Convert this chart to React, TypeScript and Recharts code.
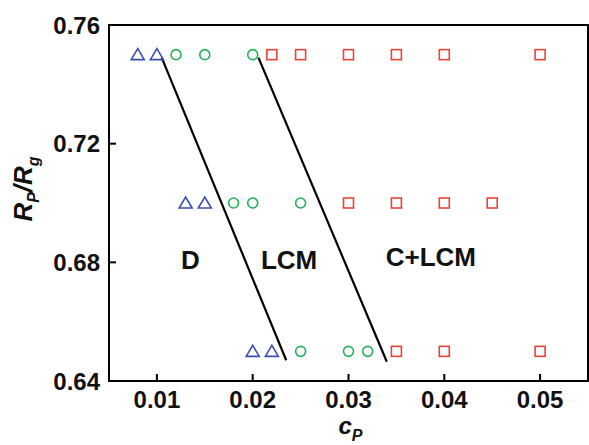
import React from 'react'
import {
  ScatterChart,
  Scatter,
  XAxis,
  YAxis,
  ReferenceLine,
  ReferenceArea,
  Label,
} from 'recharts'

if (typeof document !== 'undefined') document.body.style.margin = '0'

// D phase (triangles)
const triX = [0.008, 0.01, 0.013, 0.015, 0.02, 0.022]
const triY = [0.75, 0.75, 0.7, 0.7, 0.65, 0.65]
// LCM phase (circles)
const circX = [0.012, 0.015, 0.02, 0.018, 0.02, 0.025, 0.025, 0.03, 0.032]
const circY = [0.75, 0.75, 0.75, 0.7, 0.7, 0.7, 0.65, 0.65, 0.65]
// C+LCM phase (squares)
const sqX = [0.022, 0.025, 0.03, 0.035, 0.04, 0.05, 0.03, 0.035, 0.04, 0.045, 0.035, 0.04, 0.05]
const sqY = [0.75, 0.75, 0.75, 0.75, 0.75, 0.75, 0.7, 0.7, 0.7, 0.7, 0.65, 0.65, 0.65]

// phase boundaries
const line1 = [{ x: 0.0105, y: 0.749 }, { x: 0.0235, y: 0.647 }]
const line2 = [{ x: 0.0206, y: 0.749 }, { x: 0.034, y: 0.6465 }]

const regionNames = ['D', 'LCM', 'C+LCM']
const regionX = [0.0135, 0.0238, 0.0386]
const regionY = [0.681, 0.681, 0.682]

const xTicks = [0.01, 0.02, 0.03, 0.04, 0.05]
const yTicks = [0.64, 0.68, 0.72, 0.76]

const zip = (xs: number[], ys: number[]) => xs.map((x, i) => ({ x, y: ys[i] }))

const FONT = '"Liberation Sans", Arial, sans-serif'
const BLUE = '#3b4fb0'
const GREEN = '#22b05a'
const RED = '#ef4136'

const Triangle = (p: any) => (
  <polygon
    points={`${p.cx - 6.5},${p.cy + 5} ${p.cx + 6.5},${p.cy + 5} ${p.cx},${p.cy - 6}`}
    fill="none"
    stroke={BLUE}
    strokeWidth={1.6}
  />
)
const Circle = (p: any) => (
  <circle cx={p.cx} cy={p.cy} r={5} fill="none" stroke={GREEN} strokeWidth={1.6} />
)
const Square = (p: any) => (
  <rect x={p.cx - 5} y={p.cy - 5} width={10} height={10} fill="none" stroke={RED} strokeWidth={1.6} />
)
const RegionText = (p: any) => (
  <text x={p.cx} y={p.cy} dy="0.36em" textAnchor="middle" fontFamily={FONT} fontWeight="bold" fontSize={26} fill="#111">
    {p.payload.name}
  </text>
)

const XTick = ({ x, y, payload }: any) => (
  <g>
    <line x1={x} y1={y} x2={x} y2={y - 7} stroke="#000" strokeWidth={2} />
    <text x={x} y={y + 27} textAnchor="middle" fontFamily={FONT} fontWeight="bold" fontSize={24} fill="#111">
      {payload.value.toFixed(2)}
    </text>
  </g>
)
const YTick = ({ x, y, payload }: any) => (
  <g>
    <line x1={x} y1={y} x2={x + 7} y2={y} stroke="#000" strokeWidth={2} />
    <text x={x - 9} y={y} dy="0.36em" textAnchor="end" fontFamily={FONT} fontWeight="bold" fontSize={24} fill="#111">
      {payload.value.toFixed(2)}
    </text>
  </g>
)

export default function App() {
  return (
    <ScatterChart width={589} height={445} margin={{ top: 25, right: 1, bottom: 0, left: 0 }}>
      <XAxis
        type="number"
        dataKey="x"
        domain={[0.005, 0.055]}
        ticks={xTicks}
        tick={<XTick />}
        tickLine={false}
        tickSize={0}
        tickMargin={0}
        axisLine={{ stroke: '#000', strokeWidth: 2 }}
        height={64}
        allowDataOverflow
      >
        <Label
          content={({ viewBox }: any) => (
            <text x={viewBox.x + viewBox.width / 2 + 2} y={viewBox.y + 53} textAnchor="middle" fontFamily={FONT} fontWeight="bold" fontStyle="italic" fontSize={24} fill="#111">
              c
              <tspan dy={7} fontSize={16}>P</tspan>
            </text>
          )}
        />
      </XAxis>
      <YAxis
        type="number"
        dataKey="y"
        domain={[0.64, 0.76]}
        ticks={yTicks}
        tick={<YTick />}
        tickLine={false}
        tickSize={0}
        tickMargin={0}
        axisLine={{ stroke: '#000', strokeWidth: 2 }}
        width={109}
        allowDataOverflow
      >
        <Label
          content={() => (
            <text transform="translate(32,189) rotate(-90)" textAnchor="middle" fontFamily={FONT} fontWeight="bold" fontStyle="italic" fontSize={26} fill="#111">
              R
              <tspan dy={7} fontSize={16}>P</tspan>
              <tspan dy={-7}>/R</tspan>
              <tspan dy={7} fontSize={16}>g</tspan>
            </text>
          )}
        />
      </YAxis>
      <ReferenceArea x1={0.005} x2={0.055} y1={0.64} y2={0.76} fill="none" stroke="#000" strokeWidth={2} />
      <ReferenceLine segment={line1} stroke="#000" strokeWidth={2.2} />
      <ReferenceLine segment={line2} stroke="#000" strokeWidth={2.2} />
      <Scatter data={zip(triX, triY)} shape={Triangle} isAnimationActive={false} />
      <Scatter data={zip(circX, circY)} shape={Circle} isAnimationActive={false} />
      <Scatter data={zip(sqX, sqY)} shape={Square} isAnimationActive={false} />
      <Scatter
        data={regionNames.map((name, i) => ({ name, x: regionX[i], y: regionY[i] }))}
        shape={RegionText}
        isAnimationActive={false}
      />
    </ScatterChart>
  )
}
